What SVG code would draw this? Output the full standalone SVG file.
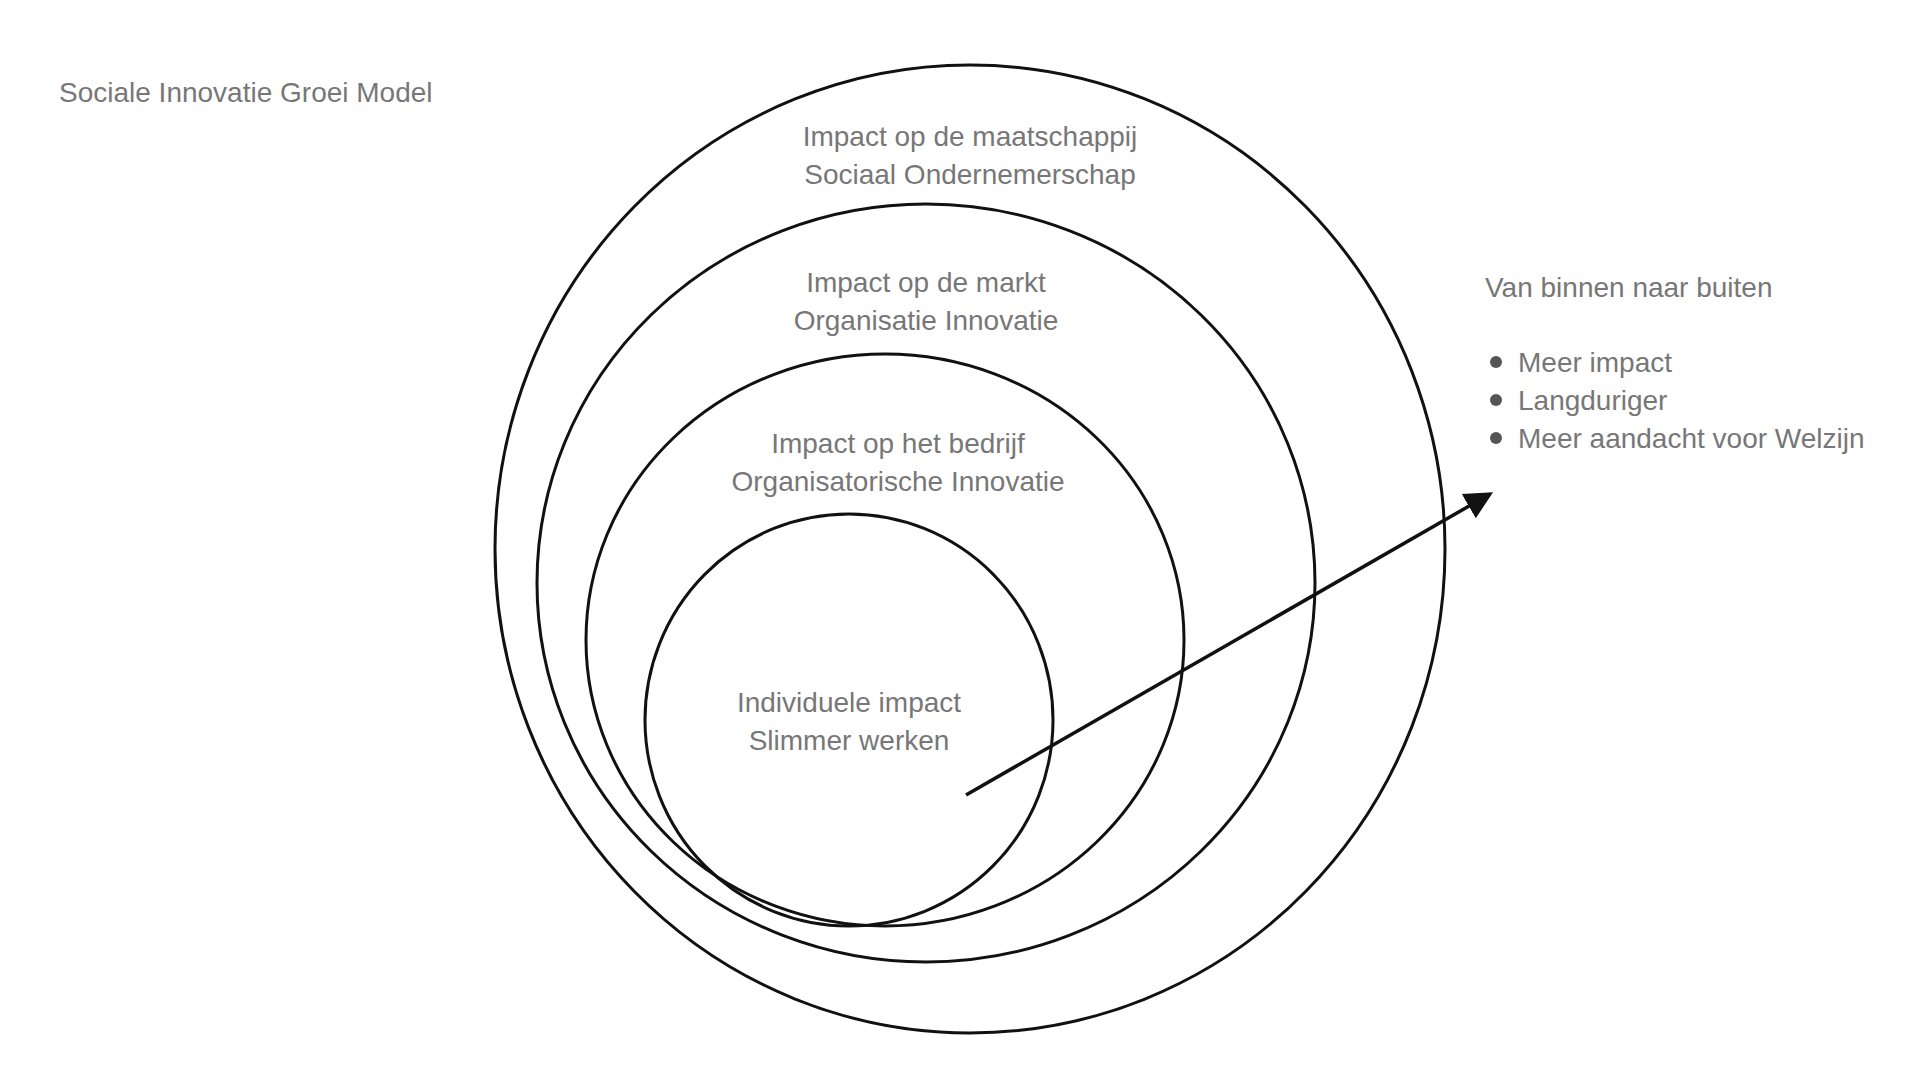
<svg xmlns="http://www.w3.org/2000/svg" width="1920" height="1080" viewBox="0 0 1920 1080">
<style>
text{font-family:"Liberation Sans",Arial,sans-serif;font-size:28px;fill:#777;font-weight:300}
.c{text-anchor:middle}
.ring{fill:none;stroke:#111;stroke-width:3}
</style>
<defs><marker id="ah" markerWidth="10" markerHeight="10" refX="7" refY="5" orient="auto" markerUnits="strokeWidth"><path d="M0,1 L8,5 L0,9 Z" fill="#111"/></marker></defs>
<rect width="1920" height="1080" fill="#fff"/>
<text x="59" y="102">Sociale Innovatie Groei Model</text>
<g id="outer"><ellipse class="ring" cx="970" cy="549" rx="475" ry="484"/>
<text class="c" x="970" y="146">Impact op de maatschappij</text><text class="c" x="970" y="184">Sociaal Ondernemerschap</text></g>
<g id="market"><ellipse class="ring" cx="926" cy="583" rx="389" ry="379"/>
<text class="c" x="926" y="292">Impact op de markt</text><text class="c" x="926" y="330">Organisatie Innovatie</text></g>
<g id="company"><ellipse class="ring" cx="885" cy="640" rx="299" ry="286"/>
<text class="c" x="898" y="453">Impact op het bedrijf</text><text class="c" x="898" y="491">Organisatorische Innovatie</text></g>
<g id="individual"><ellipse class="ring" cx="849" cy="720" rx="204" ry="206"/>
<text class="c" x="849" y="712">Individuele impact</text><text class="c" x="849" y="750">Slimmer werken</text></g>
<g id="side"><text x="1485" y="297">Van binnen naar buiten</text>
<circle cx="1496" cy="362" r="6" fill="#555"/><circle cx="1496" cy="400" r="6" fill="#555"/><circle cx="1496" cy="438" r="6" fill="#555"/>
<text x="1518" y="372">Meer impact</text><text x="1518" y="410">Langduriger</text><text x="1518" y="448">Meer aandacht voor Welzijn</text></g>
<g id="connectors"><line x1="966" y1="795" x2="1490" y2="494" stroke="#111" stroke-width="3.5" marker-end="url(#ah)"/></g>
</svg>
